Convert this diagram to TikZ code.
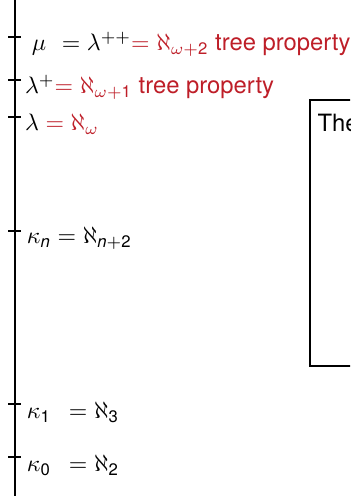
\documentclass[tikz,border=0pt]{standalone}
\usepackage{amsmath}
\usepackage{fontspec}
\setmainfont{TeX Gyre Heros}
\usepackage{xcolor}
\usetikzlibrary{positioning}
\definecolor{alertred}{RGB}{190,30,40}

\begin{document}
\begin{tikzpicture}[
    x=0.42pt, y=-0.42pt,
    axis/.style={line width=0.85pt},
    tickmark/.style={line width=0.45pt},
    lab/.style={anchor=base west, inner sep=0pt, font=\normalsize},
    theobox/.style={draw, line width=0.8pt},
]
\useasboundingbox (0,0) rectangle (350,496);
\clip (0,0) rectangle (350,496);

% --- Axis ---
\coordinate (top) at (15,0);
\coordinate (bot) at (15,496);
\draw[axis] (top) -- (bot);

% --- Ticks ---
\foreach \name/\y in {mu/37, lp/80, l/117, kn/231, ka/404, kz/457}
  \draw[tickmark] (8,\y) coordinate (\name L) -- (21,\y) coordinate (\name);

% --- Labels ---
\node[lab, right=4.4pt of mu, yshift=-3pt] (mulab)
  {$\mu$\hspace{6.5pt}$= \lambda^{++}$\textcolor{alertred}{$= \aleph_{\omega+\text{2}}$ tree property}};
\node[lab, right=1.5pt of lp, yshift=-3pt] (lplab)
  {$\lambda^+$\textcolor{alertred}{$= \aleph_{\omega+\text{1}}$ tree property}};
\node[lab, right=1.5pt of l, yshift=-3pt] (llab)
  {$\lambda$ \textcolor{alertred}{$= \aleph_\omega$}};
\node[lab, right=2.3pt of kn, yshift=-3pt] (knlab)
  {$\kappa_{\textit{n}} = \aleph_{\textit{n}+\text{2}}$};
\node[lab, right=2.3pt of ka, yshift=-3.6pt] (kalab)
  {$\kappa_{\text{1}}$\hspace{7.5pt}$= \aleph_{\text{3}}$};
\node[lab, right=2.3pt of kz, yshift=-3.6pt] (kzlab)
  {$\kappa_{\text{0}}$\hspace{7.5pt}$= \aleph_{\text{2}}$};

% --- Theorem box ---
\draw[theobox] (310,100) coordinate (boxtl) rectangle (372,366) coordinate (boxbr);
\node[lab, right=3pt of boxtl, yshift=-9.5pt] (boxtext) {The};

\end{tikzpicture}
\end{document}
